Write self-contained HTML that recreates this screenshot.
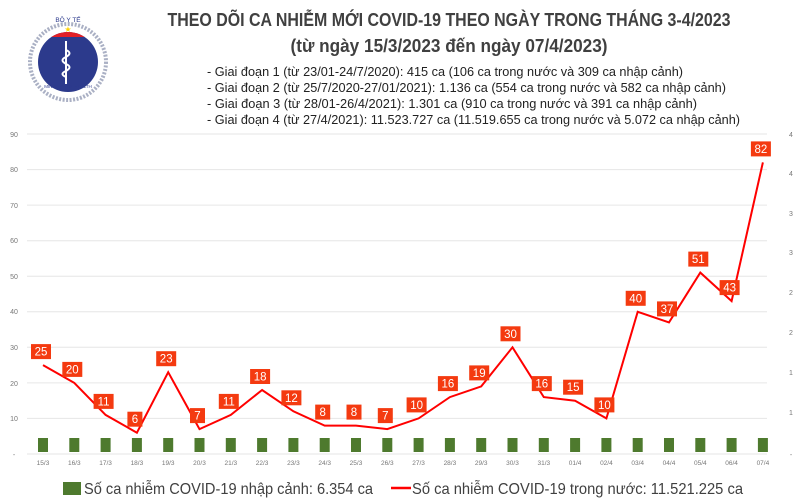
<!DOCTYPE html>
<html><head><meta charset="utf-8"><style>
body{margin:0;background:#fff;}
svg{display:block;font-family:"Liberation Sans",sans-serif;}
</style></head><body>
<svg width="800" height="500" viewBox="0 0 800 500" xmlns="http://www.w3.org/2000/svg">
<rect width="800" height="500" fill="#fff"/>
<defs><clipPath id="cc"><circle cx="68" cy="62" r="30"/></clipPath></defs>
<g>
<circle cx="68" cy="62" r="38" fill="none" stroke="#aab0c4" stroke-width="4" stroke-dasharray="2 1.5"/>
<circle cx="68" cy="62" r="30" fill="#2c3a8c"/>
<rect x="30" y="20" width="80" height="17" fill="#e21f26" clip-path="url(#cc)"/>
<text x="68" y="32" font-size="8" fill="#ffd200" text-anchor="middle">★</text>
<text x="68" y="22" font-size="6.5" fill="#2c3a8c" text-anchor="middle">BỘ Y TẾ</text>
<path d="M66 41 L66 84 M66 50 q7 3 0 7 q-7 3 0 7 q7 3 0 7 q-7 3 0 6" stroke="#fff" stroke-width="2" fill="none"/>
<text x="68" y="88" font-size="4.5" fill="#2c3a8c" text-anchor="middle">MINISTRY OF HEALTH</text>
</g>
<g fill="#404040">
<text x="449" y="26" font-size="18" font-weight="bold" text-anchor="middle" textLength="563" lengthAdjust="spacingAndGlyphs">THEO DÕI CA NHIỄM MỚI COVID-19 THEO NGÀY TRONG THÁNG 3-4/2023</text>
<text x="449" y="52" font-size="18" font-weight="bold" text-anchor="middle" textLength="317" lengthAdjust="spacingAndGlyphs">(từ ngày 15/3/2023 đến ngày 07/4/2023)</text>
<g font-size="13" fill="#222">
<text x="207" y="76" textLength="476" lengthAdjust="spacingAndGlyphs">- Giai đoạn 1 (từ 23/01-24/7/2020): 415 ca (106 ca trong nước và 309 ca nhập cảnh)</text>
<text x="207" y="92" textLength="519" lengthAdjust="spacingAndGlyphs">- Giai đoạn 2 (từ 25/7/2020-27/01/2021): 1.136 ca (554 ca trong nước và 582 ca nhập cảnh)</text>
<text x="207" y="108" textLength="490" lengthAdjust="spacingAndGlyphs">- Giai đoạn 3 (từ 28/01-26/4/2021): 1.301 ca (910 ca trong nước và 391 ca nhập cảnh)</text>
<text x="207" y="124" textLength="533" lengthAdjust="spacingAndGlyphs">- Giai đoạn 4 (từ 27/4/2021): 11.523.727 ca (11.519.655 ca trong nước và 5.072 ca nhập cảnh)</text>
</g>
</g>
<g stroke="#e6e6e6" stroke-width="1">
<line x1="27" x2="767" y1="134" y2="134"/><line x1="27" x2="767" y1="169.6" y2="169.6"/>
<line x1="27" x2="767" y1="205.1" y2="205.1"/><line x1="27" x2="767" y1="240.7" y2="240.7"/>
<line x1="27" x2="767" y1="276.2" y2="276.2"/><line x1="27" x2="767" y1="311.8" y2="311.8"/>
<line x1="27" x2="767" y1="347.3" y2="347.3"/><line x1="27" x2="767" y1="382.9" y2="382.9"/>
<line x1="27" x2="767" y1="418.4" y2="418.4"/><line x1="27" x2="767" y1="454" y2="454"/>
</g>
<g font-size="7" fill="#777" text-anchor="middle">
<text x="14" y="137">90</text><text x="14" y="172">80</text><text x="14" y="208">70</text>
<text x="14" y="243">60</text><text x="14" y="279">50</text><text x="14" y="314">40</text>
<text x="14" y="350">30</text><text x="14" y="386">20</text><text x="14" y="421">10</text><text x="14" y="457">-</text>
<text x="791" y="137">4</text><text x="791" y="176">4</text><text x="791" y="216">3</text>
<text x="791" y="255">3</text><text x="791" y="295">2</text><text x="791" y="335">2</text>
<text x="791" y="375">1</text><text x="791" y="415">1</text><text x="791" y="457">-</text>
</g>
<g fill="#4e7a2e">
<rect x="38" y="438" width="10" height="14"/><rect x="69.3" y="438" width="10" height="14"/><rect x="100.6" y="438" width="10" height="14"/><rect x="131.9" y="438" width="10" height="14"/><rect x="163.2" y="438" width="10" height="14"/><rect x="194.5" y="438" width="10" height="14"/><rect x="225.8" y="438" width="10" height="14"/><rect x="257.1" y="438" width="10" height="14"/><rect x="288.4" y="438" width="10" height="14"/><rect x="319.7" y="438" width="10" height="14"/><rect x="351" y="438" width="10" height="14"/><rect x="382.3" y="438" width="10" height="14"/><rect x="413.6" y="438" width="10" height="14"/><rect x="444.9" y="438" width="10" height="14"/><rect x="476.2" y="438" width="10" height="14"/><rect x="507.5" y="438" width="10" height="14"/><rect x="538.8" y="438" width="10" height="14"/><rect x="570.1" y="438" width="10" height="14"/><rect x="601.4" y="438" width="10" height="14"/><rect x="632.7" y="438" width="10" height="14"/><rect x="664" y="438" width="10" height="14"/><rect x="695.3" y="438" width="10" height="14"/><rect x="726.6" y="438" width="10" height="14"/><rect x="757.9" y="438" width="10" height="14"/>
</g>
<g font-size="6.5" fill="#777" text-anchor="middle">
<text x="43" y="465">15/3</text><text x="74.3" y="465">16/3</text><text x="105.6" y="465">17/3</text><text x="136.9" y="465">18/3</text><text x="168.2" y="465">19/3</text><text x="199.5" y="465">20/3</text><text x="230.8" y="465">21/3</text><text x="262.1" y="465">22/3</text><text x="293.4" y="465">23/3</text><text x="324.7" y="465">24/3</text><text x="356" y="465">25/3</text><text x="387.3" y="465">26/3</text><text x="418.6" y="465">27/3</text><text x="449.9" y="465">28/3</text><text x="481.2" y="465">29/3</text><text x="512.5" y="465">30/3</text><text x="543.8" y="465">31/3</text><text x="575.1" y="465">01/4</text><text x="606.4" y="465">02/4</text><text x="637.7" y="465">03/4</text><text x="669" y="465">04/4</text><text x="700.3" y="465">05/4</text><text x="731.6" y="465">06/4</text><text x="762.9" y="465">07/4</text>
</g>
<polyline fill="none" stroke="#f00" stroke-width="2" points="43,365.1 74.3,382.9 105.6,414.9 136.9,432.7 168.2,372.2 199.5,429.1 230.8,414.9 262.1,390 293.4,411.3 324.7,425.6 356,425.6 387.3,429.1 418.6,418.4 449.9,397.1 481.2,386.4 512.5,347.3 543.8,397.1 575.1,400.7 606.4,418.4 637.7,311.8 669,322.4 700.3,272.6 731.6,301.1 762.9,162.4"/>
<g fill="#f43a10">
<rect x="31" y="344.1" width="20" height="15"/><rect x="62.3" y="361.9" width="20" height="15"/><rect x="93.6" y="393.9" width="20" height="15"/><rect x="127.4" y="411.7" width="15" height="15"/><rect x="156.2" y="351.2" width="20" height="15"/><rect x="190" y="408.1" width="15" height="15"/><rect x="218.8" y="393.9" width="20" height="15"/><rect x="250.1" y="369" width="20" height="15"/><rect x="281.4" y="390.3" width="20" height="15"/><rect x="315.2" y="404.6" width="15" height="15"/><rect x="346.5" y="404.6" width="15" height="15"/><rect x="377.8" y="408.1" width="15" height="15"/><rect x="406.6" y="397.4" width="20" height="15"/><rect x="437.9" y="376.1" width="20" height="15"/><rect x="469.2" y="365.4" width="20" height="15"/><rect x="500.5" y="326.3" width="20" height="15"/><rect x="531.8" y="376.1" width="20" height="15"/><rect x="563.1" y="379.7" width="20" height="15"/><rect x="594.4" y="397.4" width="20" height="15"/><rect x="625.7" y="290.8" width="20" height="15"/><rect x="657" y="301.4" width="20" height="15"/><rect x="688.3" y="251.6" width="20" height="15"/><rect x="719.6" y="280.1" width="20" height="15"/><rect x="750.9" y="141.4" width="20" height="15"/>
</g>
<g font-size="11.5" fill="#fff" text-anchor="middle">
<text x="41" y="355.6">25</text><text x="72.3" y="373.4">20</text><text x="103.6" y="405.4">11</text><text x="134.9" y="423.2">6</text><text x="166.2" y="362.7">23</text><text x="197.5" y="419.6">7</text><text x="228.8" y="405.4">11</text><text x="260.1" y="380.5">18</text><text x="291.4" y="401.8">12</text><text x="322.7" y="416.1">8</text><text x="354" y="416.1">8</text><text x="385.3" y="419.6">7</text><text x="416.6" y="408.9">10</text><text x="447.9" y="387.6">16</text><text x="479.2" y="376.9">19</text><text x="510.5" y="337.8">30</text><text x="541.8" y="387.6">16</text><text x="573.1" y="391.2">15</text><text x="604.4" y="408.9">10</text><text x="635.7" y="302.3">40</text><text x="667" y="312.9">37</text><text x="698.3" y="263.1">51</text><text x="729.6" y="291.6">43</text><text x="760.9" y="152.9">82</text>
</g>
<rect x="63" y="482" width="18" height="13" fill="#4e7a2e"/>
<text x="84" y="494" font-size="16" fill="#404040" textLength="289" lengthAdjust="spacingAndGlyphs">Số ca nhiễm COVID-19 nhập cảnh: 6.354 ca</text>
<line x1="391" x2="411" y1="488" y2="488" stroke="#f00" stroke-width="2.5"/>
<text x="412" y="494" font-size="16" fill="#404040" textLength="331" lengthAdjust="spacingAndGlyphs">Số ca nhiễm COVID-19 trong nước: 11.521.225 ca</text>
</svg>
</body></html>
